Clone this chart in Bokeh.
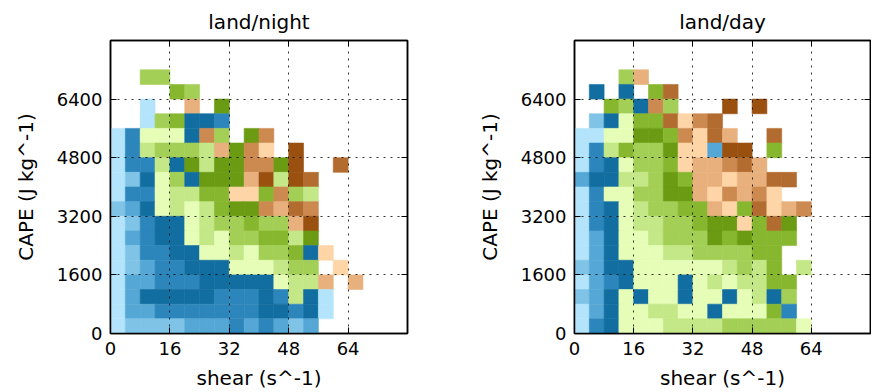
from bokeh.plotting import figure
from bokeh.layouts import row
from bokeh.models import ColumnDataSource, FixedTicker, LinearAxis, Range1d
from bokeh.embed import file_html
from bokeh.resources import INLINE

# Binning of the 2-D histogram: shear (s^-1) by CAPE (J kg^-1)
shear_bin = 4
cape_bin = 400
n_shear_bins = 20
n_cape_bins = 20
shear_ticks = [0, 16, 32, 48, 64]
cape_ticks = [0, 1600, 3200, 4800, 6400]

# Colour classes: 0 = no data, 1-5 blues, 6-10 greens, 11-15 browns
palette = [
    None,
    "#b3e4fb", "#7fc3e7", "#55a7d5", "#2c86bb", "#126ea0",
    "#e5fdb6", "#c4e787", "#a4cf56", "#86b72f", "#6a9b13",
    "#fdd5a6", "#e8b07d", "#cc8a50", "#b36c2f", "#9a5110",
]

# Class of each bin, highest CAPE row first, shear increasing left to right
night_levels = [
    [0, 0, 0, 0, 0, 0, 0, 0, 0, 0, 0, 0, 0, 0, 0, 0, 0, 0, 0, 0],
    [0, 0, 0, 0, 0, 0, 0, 0, 0, 0, 0, 0, 0, 0, 0, 0, 0, 0, 0, 0],
    [0, 0, 8, 8, 0, 0, 0, 0, 0, 0, 0, 0, 0, 0, 0, 0, 0, 0, 0, 0],
    [0, 0, 0, 0, 9, 8, 0, 0, 0, 0, 0, 0, 0, 0, 0, 0, 0, 0, 0, 0],
    [0, 0, 1, 0, 0, 12, 0, 10, 0, 0, 0, 0, 0, 0, 0, 0, 0, 0, 0, 0],
    [0, 0, 1, 8, 9, 5, 5, 4, 0, 0, 0, 0, 0, 0, 0, 0, 0, 0, 0, 0],
    [1, 4, 6, 6, 6, 5, 13, 8, 0, 10, 13, 0, 0, 0, 0, 0, 0, 0, 0, 0],
    [1, 4, 7, 8, 8, 8, 7, 12, 10, 13, 11, 0, 15, 0, 0, 0, 0, 0, 0, 0],
    [1, 4, 4, 7, 5, 10, 7, 10, 10, 13, 13, 10, 15, 0, 0, 14, 0, 0, 0, 0],
    [1, 2, 5, 6, 8, 5, 10, 10, 10, 12, 15, 7, 15, 14, 0, 0, 0, 0, 0, 0],
    [1, 4, 4, 6, 7, 7, 9, 9, 11, 11, 9, 13, 8, 7, 0, 0, 0, 0, 0, 0],
    [2, 3, 5, 6, 7, 6, 7, 9, 10, 10, 13, 12, 14, 13, 0, 0, 0, 0, 0, 0],
    [1, 2, 4, 5, 5, 6, 7, 8, 8, 9, 8, 8, 12, 15, 0, 0, 0, 0, 0, 0],
    [1, 3, 4, 5, 5, 6, 7, 6, 8, 8, 9, 9, 7, 10, 0, 0, 0, 0, 0, 0],
    [1, 2, 4, 4, 5, 5, 6, 6, 7, 6, 8, 8, 9, 5, 11, 0, 0, 0, 0, 0],
    [1, 2, 3, 4, 4, 5, 5, 5, 6, 6, 6, 7, 8, 8, 0, 11, 0, 0, 0, 0],
    [1, 3, 3, 4, 4, 4, 5, 5, 5, 5, 5, 6, 7, 7, 12, 0, 12, 0, 0, 0],
    [1, 3, 5, 5, 5, 5, 5, 4, 4, 4, 5, 4, 7, 5, 1, 0, 0, 0, 0, 0],
    [1, 3, 3, 4, 4, 4, 4, 4, 4, 4, 5, 5, 4, 5, 1, 0, 0, 0, 0, 0],
    [1, 2, 2, 2, 2, 3, 3, 3, 4, 3, 4, 3, 2, 3, 0, 0, 0, 0, 0, 0],
]

day_levels = [
    [0, 0, 0, 0, 0, 0, 0, 0, 0, 0, 0, 0, 0, 0, 0, 0, 0, 0, 0, 0],
    [0, 0, 0, 0, 0, 0, 0, 0, 0, 0, 0, 0, 0, 0, 0, 0, 0, 0, 0, 0],
    [0, 0, 0, 8, 12, 0, 0, 0, 0, 0, 0, 0, 0, 0, 0, 0, 0, 0, 0, 0],
    [0, 5, 0, 5, 0, 9, 14, 0, 0, 0, 0, 0, 0, 0, 0, 0, 0, 0, 0, 0],
    [0, 0, 9, 8, 5, 13, 8, 0, 0, 0, 15, 0, 15, 0, 0, 0, 0, 0, 0, 0],
    [0, 2, 5, 6, 9, 9, 14, 11, 13, 14, 0, 0, 0, 0, 0, 0, 0, 0, 0, 0],
    [1, 1, 6, 6, 10, 10, 9, 13, 11, 14, 12, 0, 0, 14, 0, 0, 0, 0, 0, 0],
    [1, 4, 7, 9, 8, 8, 10, 11, 11, 3, 15, 15, 0, 9, 0, 0, 0, 0, 0, 0],
    [1, 4, 5, 6, 8, 8, 9, 11, 12, 12, 13, 14, 12, 0, 0, 0, 0, 0, 0, 0],
    [3, 5, 5, 7, 7, 8, 10, 9, 12, 12, 11, 12, 12, 14, 14, 0, 0, 0, 0, 0],
    [1, 4, 6, 6, 8, 8, 10, 10, 12, 11, 13, 12, 13, 11, 0, 0, 0, 0, 0, 0],
    [1, 4, 5, 6, 7, 8, 8, 9, 9, 12, 11, 9, 14, 11, 12, 13, 0, 0, 0, 0],
    [1, 4, 5, 6, 7, 7, 8, 8, 9, 10, 10, 11, 9, 14, 10, 0, 0, 0, 0, 0],
    [1, 3, 5, 6, 6, 7, 8, 8, 8, 10, 9, 10, 9, 9, 9, 0, 0, 0, 0, 0],
    [1, 3, 5, 6, 6, 6, 7, 7, 8, 8, 8, 8, 9, 9, 0, 0, 0, 0, 0, 0],
    [2, 3, 5, 5, 6, 6, 6, 6, 6, 6, 7, 8, 7, 9, 0, 7, 0, 0, 0, 0],
    [1, 3, 4, 5, 6, 6, 6, 5, 6, 7, 6, 7, 7, 9, 9, 0, 0, 0, 0, 0],
    [2, 3, 5, 6, 5, 6, 6, 5, 6, 6, 5, 6, 7, 5, 8, 0, 0, 0, 0, 0],
    [1, 3, 5, 6, 6, 7, 7, 6, 6, 5, 6, 6, 6, 9, 4, 0, 0, 0, 0, 0],
    [1, 4, 5, 6, 6, 6, 7, 7, 7, 7, 8, 8, 8, 8, 8, 6, 0, 0, 0, 0],
]

FONT = "DejaVu Sans"


def cells(levels):
    xs, ys, cols = [], [], []
    for i, line in enumerate(levels):
        r = n_cape_bins - 1 - i
        for c, lv in enumerate(line):
            if lv:
                xs.append((c + 0.5) * shear_bin)
                ys.append((r + 0.5) * cape_bin)
                cols.append(palette[lv])
    return ColumnDataSource(dict(x=xs, y=ys, color=cols))


def style_axis(ax, ticks, show_labels):
    ax.ticker = FixedTicker(ticks=ticks)
    ax.major_tick_in = 6
    ax.major_tick_out = 0
    ax.minor_tick_line_color = None
    ax.axis_line_color = "black"
    ax.axis_line_width = 1.5
    ax.major_tick_line_color = "black"
    ax.major_label_text_font = FONT
    ax.major_label_text_color = "black"
    if show_labels:
        ax.major_label_text_font_size = "18px"
        ax.major_label_standoff = 8
        ax.axis_label_text_font = FONT
        ax.axis_label_text_font_size = "20px"
        ax.axis_label_text_font_style = "normal"
        ax.axis_label_text_color = "black"
    else:
        # tick marks only on the top and right edges of the frame
        ax.major_label_overrides = {t: "" for t in ticks}
        ax.major_label_text_font_size = "1px"
        ax.major_label_standoff = 0


def panel(title, levels, width, border_left, border_right):
    p = figure(
        width=width, height=392,
        x_range=Range1d(0, n_shear_bins * shear_bin),
        y_range=Range1d(0, n_cape_bins * cape_bin),
        min_border_left=border_left, min_border_right=border_right,
        min_border_top=38, min_border_bottom=57,
        output_backend="svg", toolbar_location=None,
        title=title, x_axis_label="shear (s^-1)", y_axis_label="CAPE (J kg^-1)",
    )
    p.title.text_font = FONT
    p.title.text_font_size = "20px"
    p.title.text_font_style = "normal"
    p.title.text_color = "black"
    p.title.align = "center"
    p.title.standoff = 14
    p.background_fill_color = "white"
    p.border_fill_color = "white"
    p.outline_line_color = "black"
    p.outline_line_width = 1.5

    p.rect(x="x", y="y", width=shear_bin, height=cape_bin, source=cells(levels),
           fill_color="color", line_color="color", line_width=0.6)

    style_axis(p.xaxis[0], shear_ticks, True)
    style_axis(p.yaxis[0], cape_ticks, True)
    p.xaxis[0].axis_label_standoff = 8
    p.yaxis[0].axis_label_standoff = 16
    top = LinearAxis()
    right = LinearAxis()
    style_axis(top, shear_ticks, False)
    style_axis(right, cape_ticks, False)
    p.add_layout(top, "above")
    p.add_layout(right, "right")

    for g, ticks in ((p.xgrid[0], shear_ticks), (p.ygrid[0], cape_ticks)):
        g.ticker = FixedTicker(ticks=ticks)
        g.grid_line_color = "black"
        g.grid_line_alpha = 0.8
        g.grid_line_dash = "2 5"
        g.grid_line_width = 1
        g.level = "overlay"
    return p


p_night = panel("land/night", night_levels, 464, 110, 57)
p_day = panel("land/day", day_levels, 407, 110, 1)

layout = row(p_night, p_day)
open("out.html", "w").write(file_html(layout, INLINE))
